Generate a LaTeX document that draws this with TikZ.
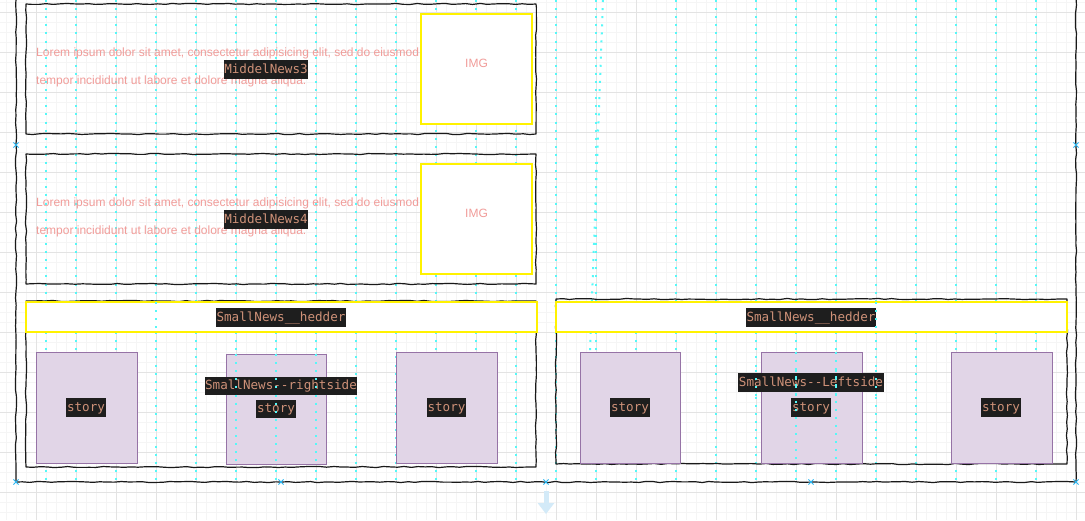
\documentclass[tikz,border=0pt]{standalone}
\usepackage{fontspec}
\setmainfont{Liberation Sans}
\newfontfamily\codefont{DejaVu Sans Mono}
\usetikzlibrary{decorations.pathmorphing,arrows.meta}
\definecolor{gridminor}{HTML}{F5F5F5}
\definecolor{gridmajor}{HTML}{E3E3E3}
\definecolor{guidecol}{HTML}{55F8F8}
\definecolor{loremcol}{HTML}{F19C99}
\definecolor{codebg}{HTML}{1E1E1E}
\definecolor{codefg}{HTML}{CE9178}
\definecolor{storyfill}{HTML}{E1D5E7}
\definecolor{storyline}{HTML}{9673A6}
\definecolor{hintcol}{HTML}{29B6F2}
\definecolor{hintarrow}{HTML}{D3EAF8}
\begin{document}
\begin{tikzpicture}[x=1pt,y=-1pt,
  sketch/.style={draw=black!90, line width=1.2pt, line join=round, decorate,
    decoration={random steps, segment length=7pt, amplitude=0.6pt}},
  guide/.style={draw=guidecol, line width=2pt, dash pattern=on 2pt off 6.1pt},
  loremtext/.style={text=loremcol, font=\fontsize{12}{14}\selectfont, inner sep=0pt, anchor=base west},
  codelabel/.style={fill=codebg, text=codefg, font=\codefont\fontsize{12.6}{14}\selectfont,
    inner xsep=0.6pt, inner ysep=0pt, text height=10.5pt, text depth=3pt, minimum height=18.5pt},
  imgbox/.style={draw=yellow, line width=1.1pt, fill=white, minimum width=111pt, minimum height=110pt, inner sep=0pt},
  imgtext/.style={text=loremcol, font=\fontsize{12}{14}\selectfont, inner sep=0pt, anchor=base},
  headbox/.style={draw=yellow, line width=1.5pt, fill=white, minimum height=30pt, inner sep=0pt},
  storybox/.style={draw=storyline, line width=0.9pt, fill=storyfill, minimum width=101pt, minimum height=111pt, inner sep=0pt},
  hintx/.style={draw=hintcol, line width=1pt}
]
\pgfmathsetseed{7}
\useasboundingbox (0,0) rectangle (1085,520);
\fill[white] (0,0) rectangle (1085,520);
% grid
\foreach \x in {6,16,...,1086} \draw[gridminor, line width=0.8pt] (\x,0) -- (\x,520);
\foreach \y in {2,12,...,522} \draw[gridminor, line width=0.8pt] (0,\y) -- (1085,\y);
\foreach \x in {36,76,...,1086} \draw[gridmajor, line width=0.9pt] (\x,0) -- (\x,520);
\foreach \y in {12,52,...,522} \draw[gridmajor, line width=0.9pt] (0,\y) -- (1085,\y);
% guide columns
\foreach \x in {46,76,116,156,196,236,276,316,356,396,436,476,516,556,596,676,716,756,796,836,876,916,956,996,1036}
  \draw[guide] (\x,0) -- (\x,482);
\draw[guide] (636,332) -- (636,482);
\draw[guide] (603,0) -- (590,352);
% sketch frames
\draw[sketch] (16,-10) -- (16,482) -- (1076,482) -- (1076,-10);
\draw[sketch] (26,4) rectangle (536,134);
\draw[sketch] (26,154) rectangle (536,284);
\draw[sketch] (26,301) rectangle (536,467);
\draw[sketch] (556,299) rectangle (1067,464);
% middle news 3
\node[imgbox] (img3) at (476.5,69) {};
\node[imgtext] (img3t) at (476.5,67.3) {IMG};
\node[loremtext] (lor3a) at (36,56.6) {Lorem ipsum dolor sit amet, consectetur adipisicing elit, sed do eiusmod};
\node[loremtext] (lor3b) at (36,84.7) {tempor incididunt ut labore et dolore magna aliqua.};
\node[codelabel] (mn3) at (266,69.5) {MiddelNews3};
% middle news 4
\node[imgbox] (img4) at (476.5,219) {};
\node[imgtext] (img4t) at (476.5,217.3) {IMG};
\node[loremtext] (lor4a) at (36,206.6) {Lorem ipsum dolor sit amet, consectetur adipisicing elit, sed do eiusmod};
\node[loremtext] (lor4b) at (36,234.7) {tempor incididunt ut labore et dolore magna aliqua.};
\node[codelabel] (mn4) at (266,219.5) {MiddelNews4};
% small news right side (left panel)
\node[headbox, minimum width=511pt] (hdL) at (281.5,317) {};
\node[codelabel] (hdLt) at (281,317.5) {SmallNews\_\_hedder};
\node[storybox] (s1) at (86.5,407.5) {};
\node[storybox, minimum width=100pt, minimum height=110pt] (s2) at (276,409) {};
\node[storybox] (s3) at (446.5,407.5) {};
\node[codelabel] (s1t) at (86,407.5) {story};
\node[codelabel] (s2t) at (276,409.2) {story};
\node[codelabel] (s3t) at (446.5,407.5) {story};
\node[codelabel] (rs) at (281,386) {SmallNews--rightside};
% small news left side (right panel)
\node[headbox, minimum width=511pt] (hdR) at (811.5,317) {};
\node[codelabel] (hdRt) at (811,317.5) {SmallNews\_\_hedder};
\node[storybox, minimum width=100pt] (sA) at (630,407.5) {};
\node[storybox] (sB) at (811.5,407.5) {};
\node[storybox] (sC) at (1001.5,407.5) {};
\node[codelabel] (sAt) at (630,407.5) {story};
\node[codelabel] (sBt) at (811,407.5) {story};
\node[codelabel] (sCt) at (1001,407.5) {story};
\node[codelabel] (ls) at (811,382.5) {SmallNews--Leftside};
% guide columns seen over some shapes
\foreach \x in {236,276,316} \draw[guide] (\x,354) -- (\x,464);
\foreach \x in {756,796,836,876} \draw[guide] (\x,370) -- (\x,396);
\foreach \x in {796,836} \draw[guide] (\x,352) -- (\x,463);
\draw[guide] (156,302) -- (156,332);
\draw[guide] (876,302) -- (876,332);
% connection hints
\foreach \px/\py in {16/145,1076/145,16/482,281/482,546/482,811/482,1076/482}
  \draw[hintx] (\px-2.6,\py-2.6) -- (\px+2.6,\py+2.6) (\px-2.6,\py+2.6) -- (\px+2.6,\py-2.6);
\coordinate (arrS) at (546,491);
\coordinate (arrE) at (546,514);
\draw[hintarrow, line width=5pt, -{Triangle[width=16pt,length=11pt]}] (arrS) -- (arrE);
\end{tikzpicture}
\end{document}
